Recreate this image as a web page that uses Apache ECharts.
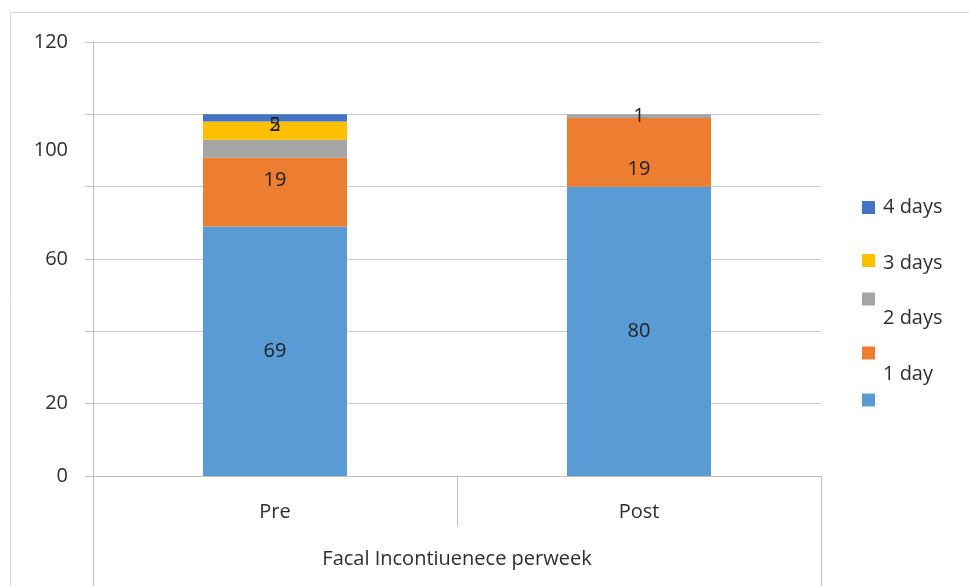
<!DOCTYPE html>
<html>
<head>
<meta charset="utf-8">
<title>Facal Incontiuenece perweek</title>
<script src="https://cdn.jsdelivr.net/npm/echarts@6/dist/echarts.min.js"></script>
<style>
  html, body { margin: 0; padding: 0; background: #ffffff; }
  #chart { width: 969px; height: 586px; }
</style>
</head>
<body>
<div id="chart"></div>
<script>
// Categories and stacked values (number of patients per episode frequency)
const categories = ['Pre', 'Post'];
const groupTitle = 'Facal Incontiuenece perweek';
const seriesNames = ['0 days', '1 day', '2 days', '3 days', '4 days'];
const noDays = [69, 80];
const oneDay = [19, 19];
const twoDays = [5, 1];
const threeDays = [5, 0];
const fourDays = [2, 0];

// Y axis tick labels, keyed by axis value
const yTickLabels = { 0: '0', 20: '20', 60: '60', 90: '100', 120: '120' };

// Legend text shown next to each colour key
const legendText = { '0 days': '', '1 day': '1 day', '2 days': '2 days', '3 days': '3 days', '4 days': '4 days' };

// ---- styling ----
const FONT = 'Open Sans';
const FS = 20;
const TEXT = '#2e2e2e';
const GRID = '#c9c9c9';
const colors = ['#5B9BD5', '#ED7D31', '#A5A5A5', '#FFC000', '#4472C4'];
const values = [noDays, oneDay, twoDays, threeDays, fourDays];

// vertical nudges for the in-bar labels (px), null hides the label
const labelNudge = [
  [0, 0],
  [-12, 17],
  [null, 0],
  [-5, null],
  [7, null]
];

// legend rows: marker centre y and how far the caption sits below it
const legendRows = [
  { name: '4 days', y: 207, drop: 0 },
  { name: '3 days', y: 259, drop: 3 },
  { name: '2 days', y: 298, drop: 19 },
  { name: '1 day', y: 352, drop: 21 },
  { name: '0 days', y: 400, drop: 0 }
];

const series = seriesNames.map((name, i) => ({
  name: name,
  type: 'bar',
  stack: 'total',
  barWidth: 144,
  xAxisIndex: 0,
  yAxisIndex: 0,
  itemStyle: { color: colors[i] },
  data: values[i].map((v, j) => {
    const nudge = labelNudge[i][j];
    return {
      value: v,
      label: {
        show: nudge !== null && v !== 0,
        offset: [0, nudge || 0]
      }
    };
  }),
  label: {
    show: true,
    position: 'inside',
    fontFamily: FONT,
    fontSize: FS,
    color: '#222222'
  }
}));

const legends = legendRows.map(row => {
  const hasText = !!legendText[row.name];
  // the caption's top padding grows the item box upwards, so the key is re-anchored
  const top = row.y - 9.5 + (row.drop > 0 ? 4 : 0) + (hasText ? 0 : 3);
  return {
    data: [row.name],
    orient: 'vertical',
    left: 862,
    top: top,
    padding: 0,
    icon: 'rect',
    itemWidth: 13,
    itemHeight: 13,
    selectedMode: false,
    formatter: name => legendText[name] ? '{t|' + legendText[name] + '}' : '',
    textStyle: {
      fontFamily: FONT,
      fontSize: FS,
      color: TEXT,
      rich: {
        t: {
          fontFamily: FONT,
          fontSize: FS,
          color: TEXT,
          padding: [row.drop * 2, 0, 0, 3]
        }
      }
    }
  };
});

const chart = echarts.init(document.getElementById('chart'), null, { renderer: 'canvas' });
chart.setOption({
  animation: false,
  backgroundColor: '#ffffff',
  textStyle: { fontFamily: FONT },
  graphic: [{
    type: 'rect',
    shape: { x: 10.5, y: 12.5, width: 1000, height: 700 },
    style: { fill: 'none', stroke: '#d9d9d9', lineWidth: 1 },
    silent: true
  }],
  grid: { left: 93, right: 148, top: 42, bottom: 110, containLabel: false },
  legend: legends,
  xAxis: [{
    type: 'category',
    data: categories,
    position: 'bottom',
    axisLine: { show: true, lineStyle: { color: '#bfbfbf', width: 1 } },
    axisTick: { show: true, length: 51, lineStyle: { color: '#c4c4c4' } },
    axisLabel: { margin: 26, fontFamily: FONT, fontSize: FS, color: TEXT },
    splitLine: { show: false }
  }, {
    type: 'category',
    data: [groupTitle],
    position: 'bottom',
    axisLine: { show: false },
    axisTick: { show: true, length: 110, lineStyle: { color: '#c4c4c4' } },
    axisLabel: { margin: 73, fontFamily: FONT, fontSize: FS, color: TEXT },
    splitLine: { show: false }
  }],
  yAxis: [{
    type: 'value',
    min: 0,
    max: 120,
    interval: 20,
    position: 'left',
    axisLine: { show: true, lineStyle: { color: '#bfbfbf' } },
    axisTick: { show: true, length: 8, lineStyle: { color: '#bfbfbf' } },
    axisLabel: { show: false },
    splitLine: { show: true, lineStyle: { color: GRID, width: 1 } }
  }, {
    type: 'value',
    min: 0,
    max: 120,
    interval: 10,
    position: 'left',
    axisLine: { show: false },
    axisTick: { show: false },
    splitLine: { show: false },
    axisLabel: {
      margin: 25,
      fontFamily: FONT,
      fontSize: FS,
      color: TEXT,
      formatter: v => yTickLabels[v] !== undefined ? yTickLabels[v] : ''
    }
  }],
  series: series
});
</script>
</body>
</html>
